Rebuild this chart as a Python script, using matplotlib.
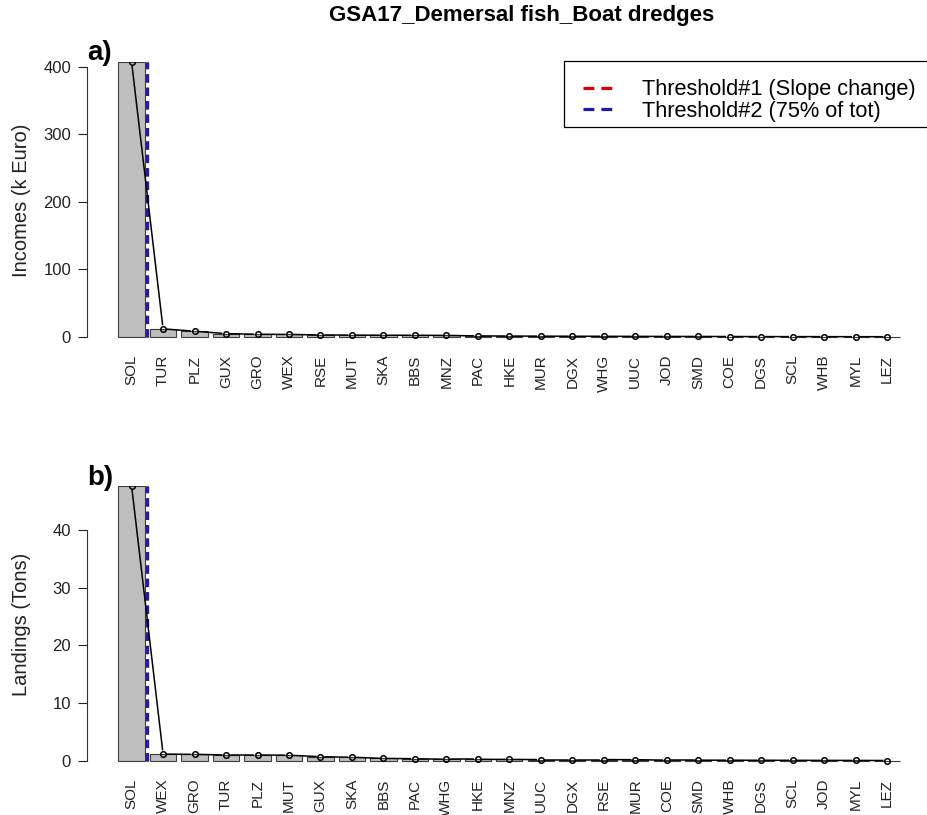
import numpy as np
import matplotlib
matplotlib.use("Agg")
import matplotlib.pyplot as plt
from matplotlib.lines import Line2D
from matplotlib.patches import Rectangle

plt.rcParams['font.family'] = ['Liberation Sans', 'DejaVu Sans']

TITLE = "GSA17_Demersal fish_Boat dredges"

# panel a) incomes (k Euro)
income_species = ["SOL", "TUR", "PLZ", "GUX", "GRO", "WEX", "RSE", "MUT", "SKA", "BBS",
                  "MNZ", "PAC", "HKE", "MUR", "DGX", "WHG", "UUC", "JOD", "SMD", "COE",
                  "DGS", "SCL", "WHB", "MYL", "LEZ"]
income_values = [407, 12, 8.5, 5, 4, 3.8, 3, 2.8, 2.6, 2.5,
                 2.3, 1.6, 1.4, 1.2, 1.1, 1.0, 0.9, 0.8, 0.75, 0.7,
                 0.6, 0.55, 0.5, 0.45, 0.4]
income_ticks = [0, 100, 200, 300, 400]

# panel b) landings (tons)
landing_species = ["SOL", "WEX", "GRO", "TUR", "PLZ", "MUT", "GUX", "SKA", "BBS", "PAC",
                   "WHG", "HKE", "MNZ", "UUC", "DGX", "RSE", "MUR", "COE", "SMD", "WHB",
                   "DGS", "SCL", "JOD", "MYL", "LEZ"]
landing_values = [47.6, 1.15, 1.1, 1.0, 1.0, 0.95, 0.7, 0.6, 0.4, 0.35,
                  0.25, 0.25, 0.22, 0.2, 0.2, 0.2, 0.18, 0.1, 0.1, 0.09,
                  0.08, 0.07, 0.06, 0.05, 0.04]
landing_ticks = [0, 10, 20, 30, 40]

# thresholds (position between bar 1 and bar 2)
threshold_slope = 1.3
threshold_75 = 1.3

W, H = 928, 815
RED = '#e00000'
BLUE = '#1c1cb4'


def gapped_line(ax, x, y, gap=4.5):
    # imitate R type="b": segments stop short of each point
    pts = ax.transData.transform(np.column_stack([x, y]))
    inv = ax.transData.inverted()
    for p0, p1 in zip(pts[:-1], pts[1:]):
        d = p1 - p0
        L = np.hypot(*d)
        if L <= 2 * gap:
            continue
        u = d / L
        a = inv.transform(p0 + u * gap)
        b = inv.transform(p1 - u * gap)
        ax.plot([a[0], b[0]], [a[1], b[1]], color='black', lw=1.1, zorder=3)


def draw_panel(ax, species, values, ylabel, ticks, ylow, letter, letter_y, label_y):
    x = 0.7 + 1.2 * np.arange(len(species))
    ax.bar(x, values, width=1.0, color='#bebebe', edgecolor='#3c3c3c', lw=0.8, zorder=1)
    ax.set_xlim(-1.0, 31.4)
    ax.set_ylim(ylow, max(values))
    ax.vlines(threshold_slope, 0, max(values), colors=RED, linestyles=(0, (2.6, 1.6)), lw=2.3, zorder=2)
    ax.vlines(threshold_75, 0, max(values), colors=BLUE, linestyles=(0, (2.6, 1.6)), lw=2.3, zorder=2)
    gapped_line(ax, x, values)
    ax.plot(x, values, 'o', ms=4, mfc='none', mec='black', mew=1.1, zorder=4)

    for s in ['top', 'right', 'bottom']:
        ax.spines[s].set_visible(False)
    ax.spines['left'].set_bounds(ticks[0], ticks[-1])
    ax.spines['left'].set_color('#333333')
    ax.set_yticks(ticks)
    ax.tick_params(axis='y', length=6.5, pad=5, labelsize=12, colors='#222222')
    ax.set_xticks(x)
    ax.set_xticklabels(species, rotation=90)
    ax.tick_params(axis='x', length=0, pad=5, labelsize=11, colors='#222222')

    fig.text(87 / W, 1 - letter_y / H, letter, fontsize=20, fontweight='bold', va='baseline', ha='left')
    fig.text(22 / W, 1 - label_y / H, ylabel, fontsize=14.5, rotation=90, va='center', ha='center',
             color='#222222')


fig = plt.figure(figsize=(W / 100, H / 100), dpi=100)
ax1 = fig.add_axes([87 / W, 1 - 347.8 / H, 850 / W, 285.8 / H])
ax2 = fig.add_axes([87 / W, 1 - 771.7 / H, 850 / W, 285.7 / H])

draw_panel(ax1, income_species, income_values, "Incomes (k Euro)", income_ticks, -16, "a)", 60, 200)
draw_panel(ax2, landing_species, landing_values, "Landings (Tons)", landing_ticks, -1.9, "b)", 485, 624)

# legend box is cut by the right edge, as in the original: fill + three open sides
x0, x1 = 564 / W, 1.0
y0, y1 = 1 - 127 / H, 1 - 61 / H
fig.add_artist(Rectangle((x0, y0), x1 - x0, y1 - y0, transform=fig.transFigure,
                         facecolor='white', edgecolor='none', zorder=3))
fig.add_artist(Line2D([x1, x0, x0, x1], [y1, y1, y0, y0], transform=fig.transFigure,
                      color='black', lw=0.9, zorder=4))
handles = [Line2D([], [], color=RED, lw=2.3, ls=(0, (3.4, 2.2))),
           Line2D([], [], color=BLUE, lw=2.3, ls=(0, (3.4, 2.2)))]
leg = fig.legend(handles, ["Threshold#1 (Slope change)", "Threshold#2 (75% of tot)"],
                 loc='center left', bbox_to_anchor=(564 / W, 1 - 100.5 / H),
                 bbox_transform=fig.transFigure, frameon=False, fontsize=15.7,
                 handlelength=1.4, handletextpad=1.35, labelspacing=0.0, borderpad=0.85,
                 borderaxespad=0)
leg.set_zorder(5)

fig.text(522 / W, 1 - 15 / H, TITLE, fontsize=16, fontweight='bold', ha='center', va='center')

fig.savefig("out.png", dpi=100)
